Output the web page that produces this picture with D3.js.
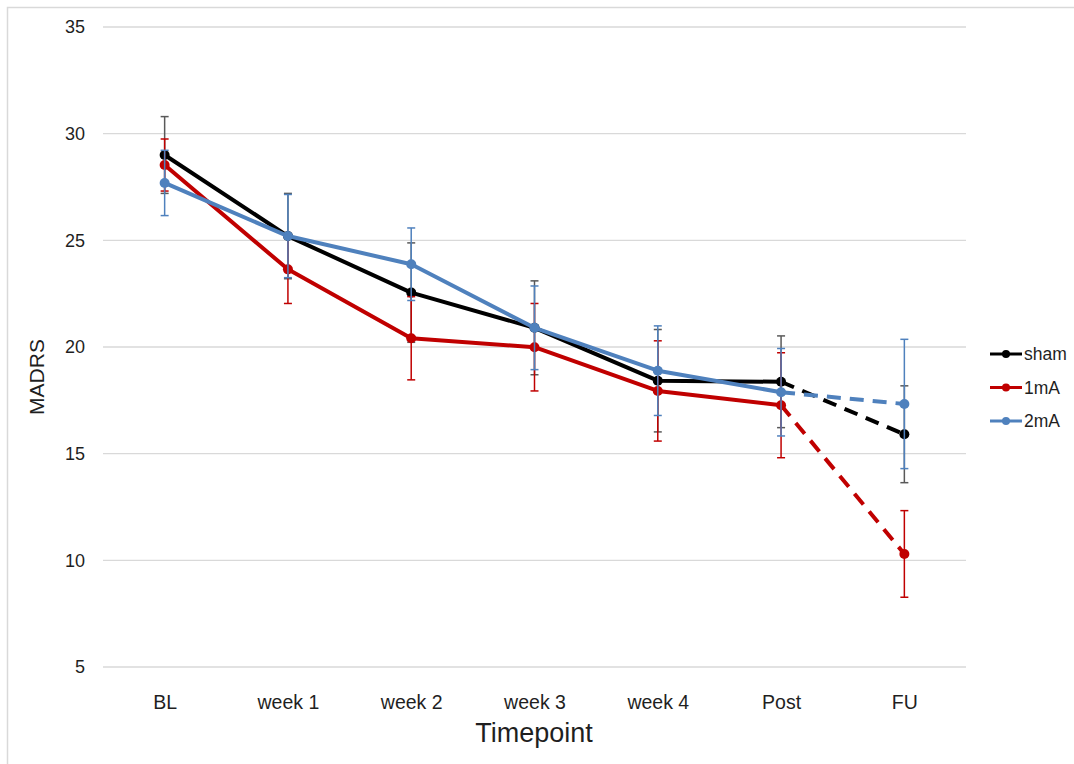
<!DOCTYPE html>
<html>
<head>
<meta charset="utf-8">
<script src="https://cdn.jsdelivr.net/npm/d3@7"></script>
<style>
  body { margin: 0; background: #fff; }
  text { font-family: "Liberation Sans", Arial, sans-serif; fill: #1f1f1f; }
</style>
</head>
<body>
<script>
const timepoints = ["BL", "week 1", "week 2", "week 3", "week 4", "Post", "FU"];
const yTicks = [5, 10, 15, 20, 25, 30, 35];

const shamMean = [29.0, 25.2, 22.55, 20.9, 18.42, 18.37, 15.91];
const shamErr  = [1.8, 2.0, 2.33, 2.2, 2.4, 2.15, 2.27];
const mA1Mean  = [28.53, 23.64, 20.41, 19.99, 17.94, 17.27, 10.3];
const mA1Err   = [1.22, 1.6, 1.95, 2.05, 2.35, 2.46, 2.03];
const mA2Mean  = [27.69, 25.2, 23.88, 20.9, 18.89, 17.88, 17.33];
const mA2Err   = [1.53, 1.95, 1.7, 1.96, 2.1, 2.05, 3.03];

const seriesNames = ["sham", "1mA", "2mA"];

let groups = [
    {name: seriesNames[0], mean: shamMean, err: shamErr, color: "#000000", errColor: "#595959"},
    {name: seriesNames[1], mean: mA1Mean, err: mA1Err, color: "#c00000", errColor: "#c00000"},
    {name: seriesNames[2], mean: mA2Mean, err: mA2Err, color: "#4f81bd", errColor: "#4f81bd"}
];

let svg = d3.select("body").append("svg")
    .attr("width", 1074)
    .attr("height", 764);

// outer frame
svg.append("rect")
    .attr("x", 7.5).attr("y", 7.5)
    .attr("width", 1080).attr("height", 780)
    .attr("fill", "none")
    .attr("stroke", "#d9d9d9")
    .attr("stroke-width", 1.5);

let x = d3.scalePoint().domain(timepoints).range([103, 966]).padding(0.5);
let y = d3.scaleLinear().domain([5, 35]).range([667, 27]);

// gridlines
svg.append("g")
    .selectAll("line")
    .data(yTicks)
    .enter()
    .append("line")
    .attr("x1", 103).attr("x2", 966)
    .attr("y1", d => y(d)).attr("y2", d => y(d))
    .attr("stroke", "#d9d9d9")
    .attr("stroke-width", 1.3);

// y axis labels
let yAxis = d3.axisLeft(y).tickValues(yTicks).tickSize(0).tickPadding(18);
let yg = svg.append("g").attr("transform", "translate(103,0)").call(yAxis);
yg.select(".domain").remove();
yg.selectAll("text").attr("font-size", 18).attr("fill", "#1f1f1f")
    .style("font-family", "'Liberation Sans', Arial, sans-serif");

// x axis labels
let xAxis = d3.axisBottom(x).tickSize(0).tickPadding(18);
let xg = svg.append("g").attr("transform", "translate(0,677)").call(xAxis);
xg.select(".domain").remove();
xg.selectAll("text").attr("font-size", 19.5).attr("fill", "#1f1f1f")
    .style("font-family", "'Liberation Sans', Arial, sans-serif");

svg.append("text")
    .attr("x", 534).attr("y", 742)
    .attr("text-anchor", "middle")
    .attr("font-size", 27)
    .text("Timepoint");

svg.append("text")
    .attr("transform", "translate(44,377) rotate(-90)")
    .attr("text-anchor", "middle")
    .attr("font-size", 21)
    .text("MADRS");

let last = timepoints.length - 1;
let line = d3.line().x(d => x(d.t)).y(d => y(d.v));

groups.forEach(g => {
    let pts = g.mean.map((v, i) => ({t: timepoints[i], v: v, e: g.err[i]}));
    let gg = svg.append("g");

    // error bars
    let eb = gg.selectAll(".eb").data(pts).enter().append("g");
    eb.append("line")
        .attr("x1", d => x(d.t)).attr("x2", d => x(d.t))
        .attr("y1", d => y(d.v - d.e)).attr("y2", d => y(d.v + d.e))
        .attr("stroke", g.errColor).attr("stroke-width", 1.5);
    [-1, 1].forEach(s => {
        eb.append("line")
            .attr("x1", d => x(d.t) - 4).attr("x2", d => x(d.t) + 4)
            .attr("y1", d => y(d.v + s * d.e)).attr("y2", d => y(d.v + s * d.e))
            .attr("stroke", g.errColor).attr("stroke-width", 1.5);
    });

    gg.append("path")
        .datum(pts.slice(0, last))
        .attr("d", line)
        .attr("fill", "none")
        .attr("stroke", g.color)
        .attr("stroke-width", 4)
        .attr("stroke-linejoin", "round");

    gg.append("path")
        .datum(pts.slice(last - 1))
        .attr("d", line)
        .attr("fill", "none")
        .attr("stroke", g.color)
        .attr("stroke-width", 4)
        .attr("stroke-dasharray", "14,9");

    gg.selectAll("circle").data(pts).enter().append("circle")
        .attr("cx", d => x(d.t)).attr("cy", d => y(d.v))
        .attr("r", 5)
        .attr("fill", g.color);
});

// legend
let legend = svg.append("g")
    .selectAll("g")
    .data(groups)
    .enter()
    .append("g")
    .attr("transform", (d, i) => `translate(990,${354 + i * 33.5})`);
legend.append("line")
    .attr("x1", 0).attr("x2", 32).attr("y1", 0).attr("y2", 0)
    .attr("stroke", d => d.color).attr("stroke-width", 3);
legend.append("circle")
    .attr("cx", 16).attr("cy", 0).attr("r", 4)
    .attr("fill", d => d.color);
legend.append("text")
    .attr("x", 34).attr("y", 6)
    .attr("font-size", 17.5)
    .text(d => d.name);
</script>
</body>
</html>
